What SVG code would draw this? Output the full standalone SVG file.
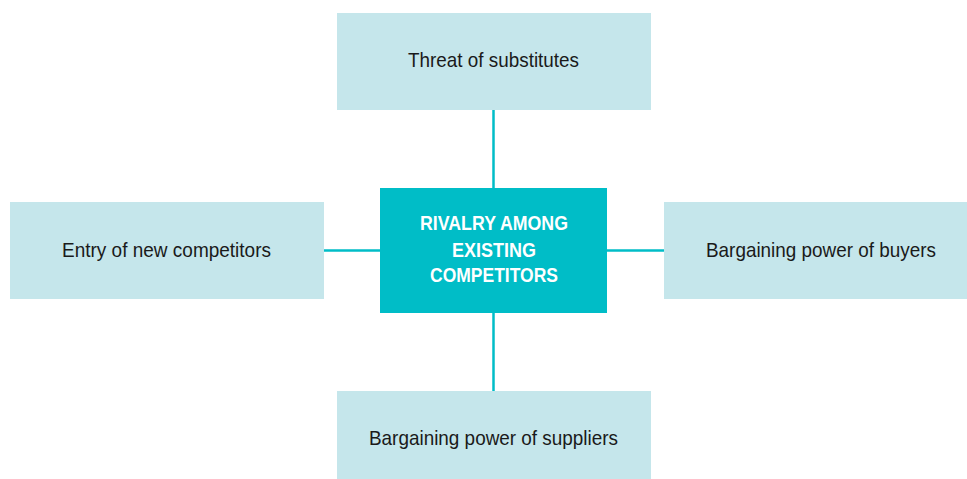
<svg xmlns="http://www.w3.org/2000/svg" width="967" height="479" viewBox="0 0 967 479">
<style>
.box{fill:#C5E6EB}
.core{fill:#00BDC7}
.lbl{font-family:"Liberation Sans",Arial,sans-serif;font-size:21px;fill:#1a1a1a;text-anchor:middle}
.clbl{font-family:"Liberation Sans",Arial,sans-serif;font-size:20px;font-weight:bold;fill:#ffffff;text-anchor:middle}
.conn{stroke:#00BDC7;stroke-width:2.5;fill:none}
</style>
<rect width="967" height="479" fill="#ffffff"/>
<g id="connectors">
<line class="conn" x1="493.5" y1="110" x2="493.5" y2="188"/>
<line class="conn" x1="493.5" y1="313" x2="493.5" y2="391"/>
<line class="conn" x1="324" y1="250.5" x2="380" y2="250.5"/>
<line class="conn" x1="607" y1="250.5" x2="664" y2="250.5"/>
</g>
<g id="threat">
<rect class="box" x="337" y="13" width="314" height="97"/>
<text class="lbl" x="493.5" y="67" textLength="171" lengthAdjust="spacingAndGlyphs">Threat of substitutes</text>
</g>
<g id="entry">
<rect class="box" x="10" y="202" width="314" height="97"/>
<text class="lbl" x="166.5" y="257" textLength="209" lengthAdjust="spacingAndGlyphs">Entry of new competitors</text>
</g>
<g id="buyers">
<rect class="box" x="664" y="202" width="303" height="97"/>
<text class="lbl" x="821" y="257" textLength="230" lengthAdjust="spacingAndGlyphs">Bargaining power of buyers</text>
</g>
<g id="suppliers">
<rect class="box" x="337" y="391" width="314" height="88"/>
<text class="lbl" x="493.5" y="445" textLength="249" lengthAdjust="spacingAndGlyphs">Bargaining power of suppliers</text>
</g>
<g id="rivalry">
<rect class="core" x="380" y="188" width="227" height="125"/>
<text class="clbl" x="494" y="230" textLength="148" lengthAdjust="spacingAndGlyphs">RIVALRY AMONG</text>
<text class="clbl" x="494" y="256.5" textLength="84" lengthAdjust="spacingAndGlyphs">EXISTING</text>
<text class="clbl" x="494" y="282" textLength="128" lengthAdjust="spacingAndGlyphs">COMPETITORS</text>
</g>
</svg>
